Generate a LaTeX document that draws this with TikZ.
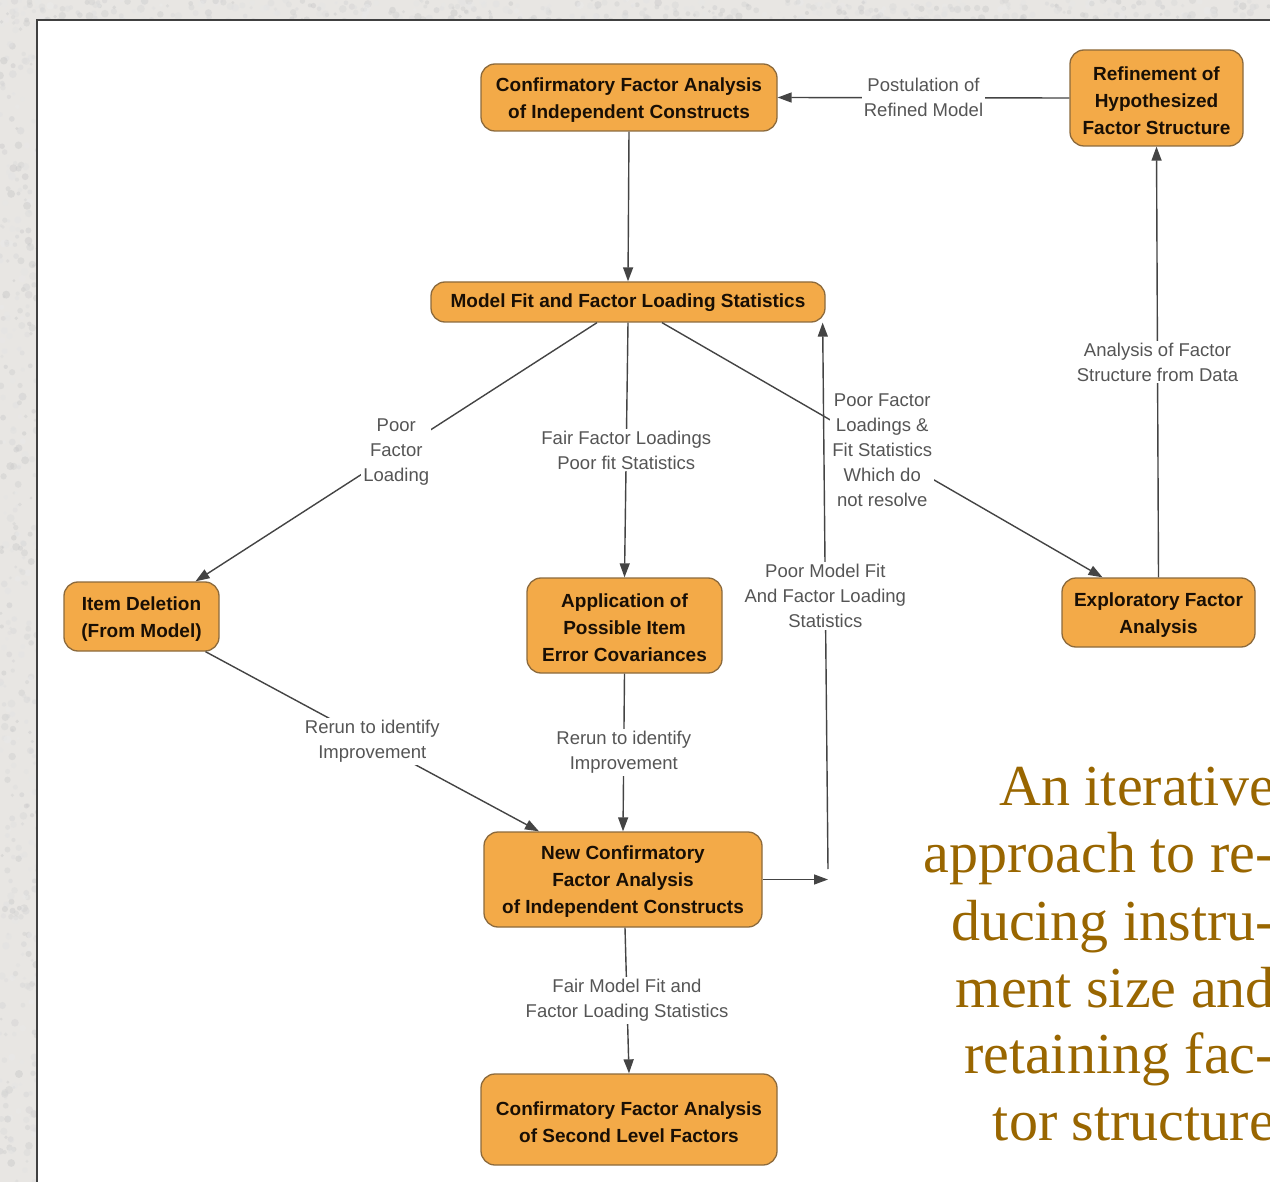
\documentclass[tikz,border=0pt]{standalone}
\usepackage{fontspec}
\setmainfont{Liberation Sans}
\newfontfamily\capfont{Liberation Serif}
\usetikzlibrary{arrows.meta}
\definecolor{boxfill}{RGB}{243,170,72}
\definecolor{boxborder}{RGB}{140,106,60}
\definecolor{boxtext}{RGB}{25,15,5}
\definecolor{labtext}{RGB}{85,85,85}
\definecolor{linecol}{RGB}{68,68,68}
\definecolor{capcol}{RGB}{153,102,0}
\definecolor{bgcol}{RGB}{232,230,227}
\newcommand{\boxfnt}{\bfseries\fontsize{19}{27}\selectfont}
\newcommand{\labfnt}{\fontsize{18.5}{25}\selectfont}
\begin{document}
\begin{tikzpicture}[x=1pt,y=-1pt,
  box/.style={draw=boxborder, fill=boxfill, rounded corners=14pt, line width=1.3pt,
    align=center, font=\boxfnt, text=boxtext, inner sep=0pt},
  lab/.style={fill=white, font=\labfnt, text=labtext, align=center, inner sep=2pt},
  conn/.style={draw=linecol, line width=1.4pt, -{Triangle[length=14pt,width=10pt]}},
  capline/.style={anchor=base east, inner sep=0pt, text=capcol,
    font=\capfont\fontsize{58}{67}\selectfont}]
\useasboundingbox (0,0) rectangle (1270,1182);
\clip (0,0) rectangle (1270,1182);
% background texture
\fill[bgcol] (0,0) rectangle (1270,1182);
\pgfmathsetseed{11}
\foreach \i in {1,...,450}{
  \pgfmathsetmacro\xx{rnd*40}
  \pgfmathsetmacro\yy{rnd*1182}
  \pgfmathsetmacro\pp{8+rnd*14}
  \fill[black!\pp, opacity=0.45] (\xx,\yy) circle (1.5+rnd*2.5);
}
\foreach \i in {1,...,450}{
  \pgfmathsetmacro\xx{rnd*1270}
  \pgfmathsetmacro\yy{rnd*22}
  \pgfmathsetmacro\pp{8+rnd*14}
  \fill[black!\pp, opacity=0.45] (\xx,\yy) circle (1.5+rnd*2.5);
}
% white panel
\filldraw[fill=white, draw=black!75, line width=1.2pt] (37,20) rectangle (1300,1210);

% nodes
\node[box, minimum width=296pt, minimum height=67pt] (cfa1) at (629,97.5)
  {\strut Confirmatory Factor Analysis\\of Independent Constructs};
\node[box, minimum width=173pt, minimum height=96pt] (ref) at (1156.5,98)
  {\strut Refinement of\\Hypothesized\\Factor Structure};
\node[box, minimum width=394pt, minimum height=40pt] (mf) at (628,302)
  {\strut Model Fit and Factor Loading Statistics};
\node[box, minimum width=155pt, minimum height=69pt] (item) at (141.5,616.5)
  {\strut Item Deletion\\(From Model)};
\node[box, minimum width=195pt, minimum height=95pt] (app) at (624.5,625.5)
  {\strut Application of\\Possible Item\\Error Covariances};
\node[box, minimum width=193pt, minimum height=69pt] (efa) at (1158.5,612.5)
  {\strut Exploratory Factor\\Analysis};
\node[box, minimum width=278pt, minimum height=95pt] (ncfa) at (623,879.5)
  {\strut New Confirmatory\\Factor Analysis\\of Independent Constructs};
\node[box, minimum width=296pt, minimum height=91pt] (cfa2) at (629,1119.5)
  {\strut Confirmatory Factor Analysis\\of Second Level Factors};

\coordinate (r1) at (828,879.5);
\coordinate (r2) at (828,869);

% connectors
\draw[conn] (ref.west) -- node[lab]{Postulation of\\Refined Model} (cfa1.east);
\draw[conn] (cfa1.south) -- (mf.north);
\draw[conn] ([xshift=-31pt]mf.south) -- node[lab]{Poor\\Factor\\Loading} ([xshift=54pt]item.north);
\draw[conn] (mf.south) -- node[lab]{Fair Factor Loadings\\Poor fit Statistics} (app.north);
\draw[conn] ([xshift=34pt]mf.south) -- node[lab]{Poor Factor\\Loadings \&\\Fit Statistics\\Which do\\not resolve} ([xshift=-56pt]efa.north);
\draw[conn] (efa.north) -- node[lab]{Analysis of Factor\\Structure from Data} (ref.south);
\draw[conn] ([xshift=64pt]item.south) -- node[lab]{Rerun to identify\\Improvement} ([xshift=-84pt]ncfa.north);
\draw[conn] (app.south) -- node[lab]{Rerun to identify\\Improvement} (ncfa.north);
\draw[conn] (ncfa.east) -- (r1);
\draw[conn] (r2) -- node[lab]{Poor Model Fit\\And Factor Loading\\Statistics} ([xshift=-3pt]mf.south east);
\draw[conn] ([xshift=2pt]ncfa.south) -- node[lab]{Fair Model Fit and\\Factor Loading Statistics} (cfa2.north);

% caption
\node[capline] (c1) at (1275,805) {An iterative};
\node[capline] (c2) at (1275,872) {approach to re-};
\node[capline] (c3) at (1275,940) {ducing instru-};
\node[capline] (c4) at (1275,1007) {ment size and};
\node[capline] (c5) at (1275,1073) {retaining fac-};
\node[capline] (c6) at (1275,1140) {tor structure};
\end{tikzpicture}
\end{document}
